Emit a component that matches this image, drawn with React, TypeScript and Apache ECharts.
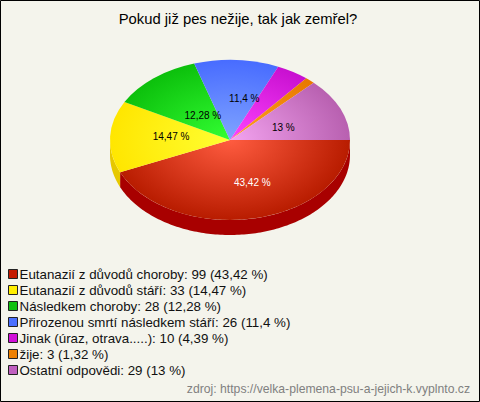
import React, { useEffect, useRef } from "react";
import * as echarts from "echarts";

const titleText = "Pokud již pes nežije, tak jak zemřel?";
const sourceText = "zdroj: https://velka-plemena-psu-a-jejich-k.vyplnto.cz";
const categories = [
  "Eutanazií z důvodů choroby",
  "Eutanazií z důvodů stáří",
  "Následkem choroby",
  "Přirozenou smrtí následkem stáří",
  "Jinak (úraz, otrava.....)",
  "žije",
  "Ostatní odpovědi",
];
const counts = [99, 33, 28, 26, 10, 3, 29];
const percentLabels = ["43,42", "14,47", "12,28", "11,4", "4,39", "1,32", "13"];
const sliceLabelShown = [true, true, true, true, false, false, true];
const labelNudge = [[10, 3], [1, -2], [11, 6], [11, -2], [0, 0], [0, 0], [-2, 3]];
const legendColors = ["#c41a00", "#ffee00", "#10c010", "#4a70ff", "#d010d8", "#ee8000", "#c060c0"];
const centerColors = ["#ff5c40", "#ffff33", "#33ff33", "#80a4ff", "#ff44ff", "#ffa020", "#f4a4f0"];
const edgeColors = ["#b81c00", "#ffe600", "#0cc00c", "#486cff", "#c810d0", "#e87800", "#b860b0"];
const wallColors = ["#a80000", "#e6c800", "#0a900a", "#3050c0", "#a000a0", "#b06000", "#905090"];
const labelColors = ["#ffffff", "#000000", "#000000", "#000000", "#000000", "#000000", "#000000"];

const CX = 230, CY = 140, RX = 120, RY = 80, DEPTH = 15;
const total = counts.reduce((a, b) => a + b, 0);
const startValues = counts.map((_, i) => counts.slice(0, i).reduce((a, b) => a + b, 0));

function App() {
  const ref = useRef<HTMLDivElement>(null);
  useEffect(() => {
    const chart = echarts.init(ref.current!, undefined, { renderer: "svg" });
    const font = "Liberation Sans, Arial, sans-serif";
    const series = categories.map((name, i) => ({
      type: "custom",
      name,
      coordinateSystem: "none",
      silent: true,
      itemStyle: { color: legendColors[i] },
      data: [[counts[i]]],
      renderItem: (_: any, api: any) => {
        const a0 = (startValues[i] / total) * Math.PI * 2;
        const a1 = ((startValues[i] + api.value(0)) / total) * Math.PI * 2;
        const children: any[] = [];
        const w0 = a0, w1 = Math.min(a1, Math.PI);
        if (w1 > w0) {
          const n = Math.max(2, Math.ceil((w1 - w0) / 0.02));
          const top: number[][] = [], bottom: number[][] = [];
          for (let k = 0; k <= n; k++) {
            const t = w0 + ((w1 - w0) * k) / n;
            const x = CX + RX * Math.cos(t), y = CY + RY * Math.sin(t);
            top.push([x, y]);
            bottom.unshift([x, y + DEPTH]);
          }
          children.push({
            type: "polygon", z2: 1,
            shape: { points: top.concat(bottom) },
            style: { fill: wallColors[i] },
          });
        }
        children.push({
          type: "sector", z2: 2, x: CX, y: CY, scaleY: RY / RX,
          shape: { cx: 0, cy: 0, r0: 0, r: RX, startAngle: a0, endAngle: a1, clockwise: true },
          style: {
            fill: new echarts.graphic.RadialGradient(0, 0, RX, [
              { offset: 0, color: centerColors[i] },
              { offset: 1, color: edgeColors[i] },
            ], true),
          },
        });
        if (sliceLabelShown[i]) {
          const mid = (a0 + a1) / 2;
          children.push({
            type: "text", z2: 3,
            x: CX + 0.5 * RX * Math.cos(mid) + labelNudge[i][0],
            y: CY + 0.5 * RY * Math.sin(mid) + labelNudge[i][1],
            style: {
              text: `${percentLabels[i]} %`, fill: labelColors[i],
              font: `10px ${font}`, align: "center", verticalAlign: "middle",
            },
          });
        }
        return { type: "group", children };
      },
    }));
    chart.setOption({
      animation: false,
      backgroundColor: "#f4f4ec",
      title: {
        text: titleText, left: 238, top: 11, textAlign: "center", padding: 0,
        textStyle: { fontFamily: font, fontSize: 14.8, fontWeight: "normal", color: "#000" },
      },
      legend: {
        orient: "vertical", left: 8, top: 266, padding: 0, itemGap: 0,
        itemWidth: 9, itemHeight: 9, icon: "rect", selectedMode: false,
        itemStyle: { borderColor: "#222222", borderWidth: 1 },
        textStyle: {
          fontFamily: font, fontSize: 13.33, color: "#111", lineHeight: 16,
          padding: [0, 0, 0, -3],
        },
        formatter: (name: string) => {
          const i = categories.indexOf(name);
          return `${name}: ${counts[i]} (${percentLabels[i]} %)`;
        },
        data: categories,
      },
      graphic: [
        {
          type: "rect", silent: true,
          shape: { x: 0.5, y: 0.5, width: 479, height: 401 },
          style: { fill: "none", stroke: "#000", lineWidth: 1 },
        },
        {
          type: "text", silent: true, right: 10, top: 383,
          style: { text: sourceText, fill: "#808080", font: `12.2px ${font}` },
        },
      ],
      series,
    });
    return () => chart.dispose();
  }, []);
  return <div ref={ref} style={{ position: "absolute", left: 0, top: 0, width: 480, height: 402 }} />;
}

export default App;
